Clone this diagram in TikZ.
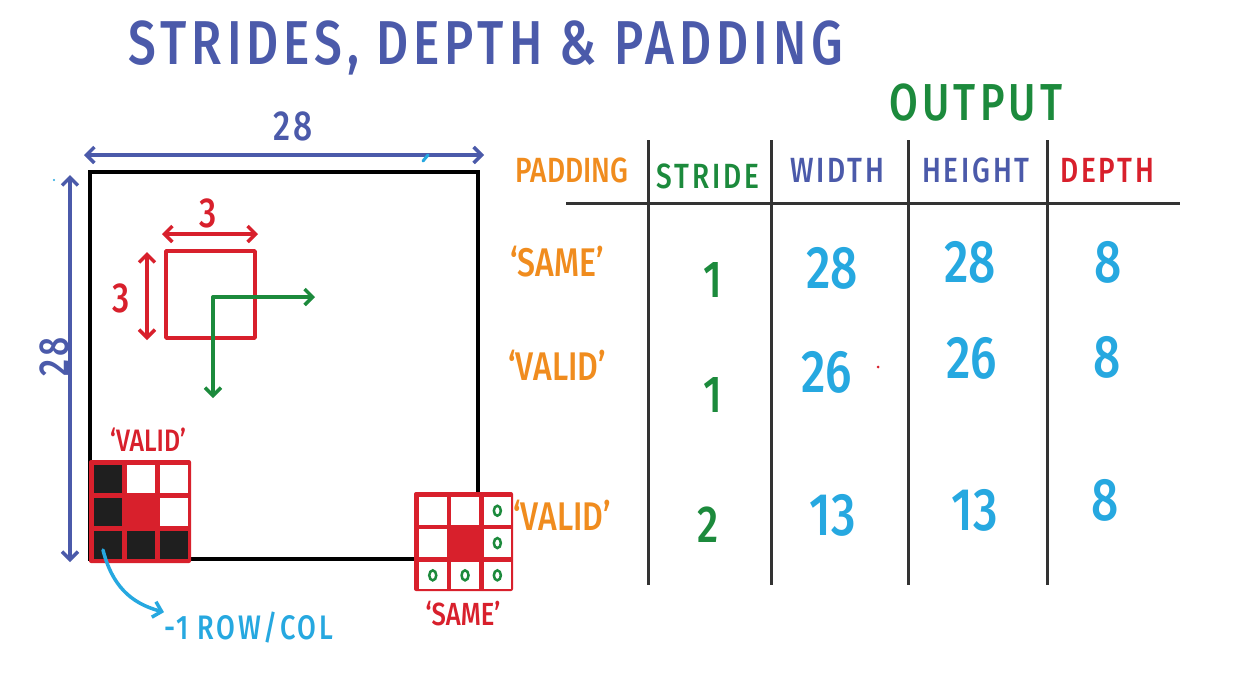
\documentclass[tikz,border=0pt]{standalone}
\usepackage{fontspec}
\setmainfont{Fira Sans Medium}[FakeStretch=0.8]
\newfontfamily\spaced{Fira Sans Medium}[FakeStretch=0.8, LetterSpace=8]
\usetikzlibrary{arrows.meta}
\definecolor{tblue}{HTML}{4B5AAA}
\definecolor{tred}{HTML}{D8202C}
\definecolor{tgreen}{HTML}{1C8A3C}
\definecolor{torange}{HTML}{F08C1E}
\definecolor{tcyan}{HTML}{26A8E0}
\definecolor{tgray}{HTML}{333333}
\newcommand\fsz[1]{\fontsize{#1}{#1}\selectfont}
\begin{document}
\begin{tikzpicture}[x=1pt,y=-1pt,
  pen/.style={line width=3.5pt, line cap=round, line join=round},
  barb/.style={-{Straight Barb[length=8pt,width=16pt]}},
  dbarb/.style={{Straight Barb[length=8pt,width=16pt]}-{Straight Barb[length=8pt,width=16pt]}},
  lbl/.style={inner sep=0pt},
  title/.style={lbl, text=tblue, font=\spaced\fsz{62}},
  head/.style={lbl, font=\spaced\fsz{35}},
  num/.style={lbl, text=tcyan, font=\fsz{60}},
  pad/.style={lbl, text=torange, font=\fsz{40}},
  strd/.style={lbl, text=tgreen, font=\fsz{52}},
  dim/.style={lbl, text=tblue, font=\spaced\fsz{42}},
  kdim/.style={lbl, text=tred, font=\fsz{42}},
  cellw/.style={fill=white},
  cellk/.style={fill=black!88},
  grid/.style={fill=tred, rounded corners=2pt},
]
\useasboundingbox[fill=white] (0,0) rectangle (1244,672);

% title
\node[title] (title) at (486,48) {STRIDES, DEPTH \& PADDING};

% big square
\draw[line width=4pt] (90,172) rectangle (478,559);
\node[lbl] (sq) at (284,365.5) {};

% dimension arrows
\draw[pen, tblue, dbarb] (84,155) -- (484,155);
\node[dim] (w28) at (293,126) {28};
\draw[pen, tblue, dbarb] (70,175) -- (70,562);
\node[dim, rotate=90] (h28) at (54,357) {28};

% kernel
\draw[pen, tred] (166,251) rectangle (255,338);
\draw[pen, tred, dbarb] (162,234) -- (258,234);
\node[kdim] (k3a) at (208,213) {3};
\draw[pen, tred, dbarb] (147,252) -- (147,340);
\node[kdim] (k3b) at (121,298) {3};
\coordinate (corner) at (213,297);
\coordinate (rgt) at (315,297);
\coordinate (dwn) at (213,398);
\draw[pen, tgreen, barb] (corner) -- (rgt);
\draw[pen, tgreen, barb] (corner) -- (dwn);

% VALID grid
\node[lbl, text=tred, font=\fsz{31}] (validlbl) at (148,440) {‘VALID’};
\fill[grid] (89,460) rectangle (191,563);
\foreach \c/\r/\s in {0/0/cellk,1/0/cellw,2/0/cellw,0/1/cellk,2/1/cellw,0/2/cellk,1/2/cellk,2/2/cellk}{
  \fill[\s] ({94+33*\c},{465+33*\r}) rectangle ++(28,28);
}
% SAME grid
\fill[grid] (414,492) rectangle (513,591);
\foreach \c/\r in {0/0,1/0,2/0,0/1,2/1,0/2,1/2,2/2}{
  \fill[white] ({419+32.3*\c},{497+32.3*\r}) rectangle ++(27.5,27.5);
}
\foreach \c/\r in {2/0,2/1,0/2,1/2,2/2}{
  \draw[tgreen, line width=2.5pt] ({419+32.3*\c+13.75},{497+32.3*\r+13.75}) ellipse (3.5pt and 5pt);
}
\node[lbl, text=tred, font=\fsz{32}] (samelbl) at (463,614) {‘SAME’};

% -1 row/col
\coordinate (vstart) at (103,550);
\node[lbl, text=tcyan, font=\spaced\fsz{34}, anchor=west] (rowcol) at (164,628) {-1 ROW/COL};
\draw[pen, tcyan, barb] (vstart) .. controls (112,585) and (130,603) .. (rowcol.north west);

% stray marks
\fill[tcyan] (54,180) circle (1.2pt);
\draw[tcyan, line width=3pt, line cap=round] (423,161) -- (428,155);
\fill[tred] (878,367) circle (1.5pt);

% table
\node[lbl, text=tgreen, font=\spaced\fsz{52}] (output) at (976,103) {OUTPUT};
\node[lbl, text=torange, font=\fsz{35}] (hpad) at (572,170) {PADDING};
\node[head, text=tgreen] (hstr) at (708,176) {STRIDE};
\node[head, text=tblue] (hw) at (837,170) {WIDTH};
\node[head, text=tblue] (hh) at (976,170) {HEIGHT};
\node[head, text=tred] (hd) at (1107,170) {DEPTH};
\draw[tgray, line width=3pt] (566,203) -- (1180,203);
\foreach \x in {648,771,908,1047}{
  \draw[tgray, line width=3pt] (\x,140) -- (\x,585);
}
% rows
\node[pad] (p1) at (557,262) {‘SAME’};
\node[strd] (s1) at (713,280) {1};
\node[num] (w1) at (832,268) {28};
\node[num] (h1) at (970,262) {28};
\node[num] (d1) at (1108,262) {8};

\node[pad] (p2) at (557,365) {‘VALID’};
\node[strd] (s2) at (713,395) {1};
\node[num] (w2) at (827,372) {26};
\node[num] (h2) at (972,358) {26};
\node[num] (d2) at (1107,357) {8};

\node[pad] (p3) at (562,515) {‘VALID’};
\node[strd] (s3) at (708,525) {2};
\node[num] (w3) at (833,515) {13};
\node[num] (h3) at (975,510) {13};
\node[num] (d3) at (1105,500) {8};
\end{tikzpicture}
\end{document}
